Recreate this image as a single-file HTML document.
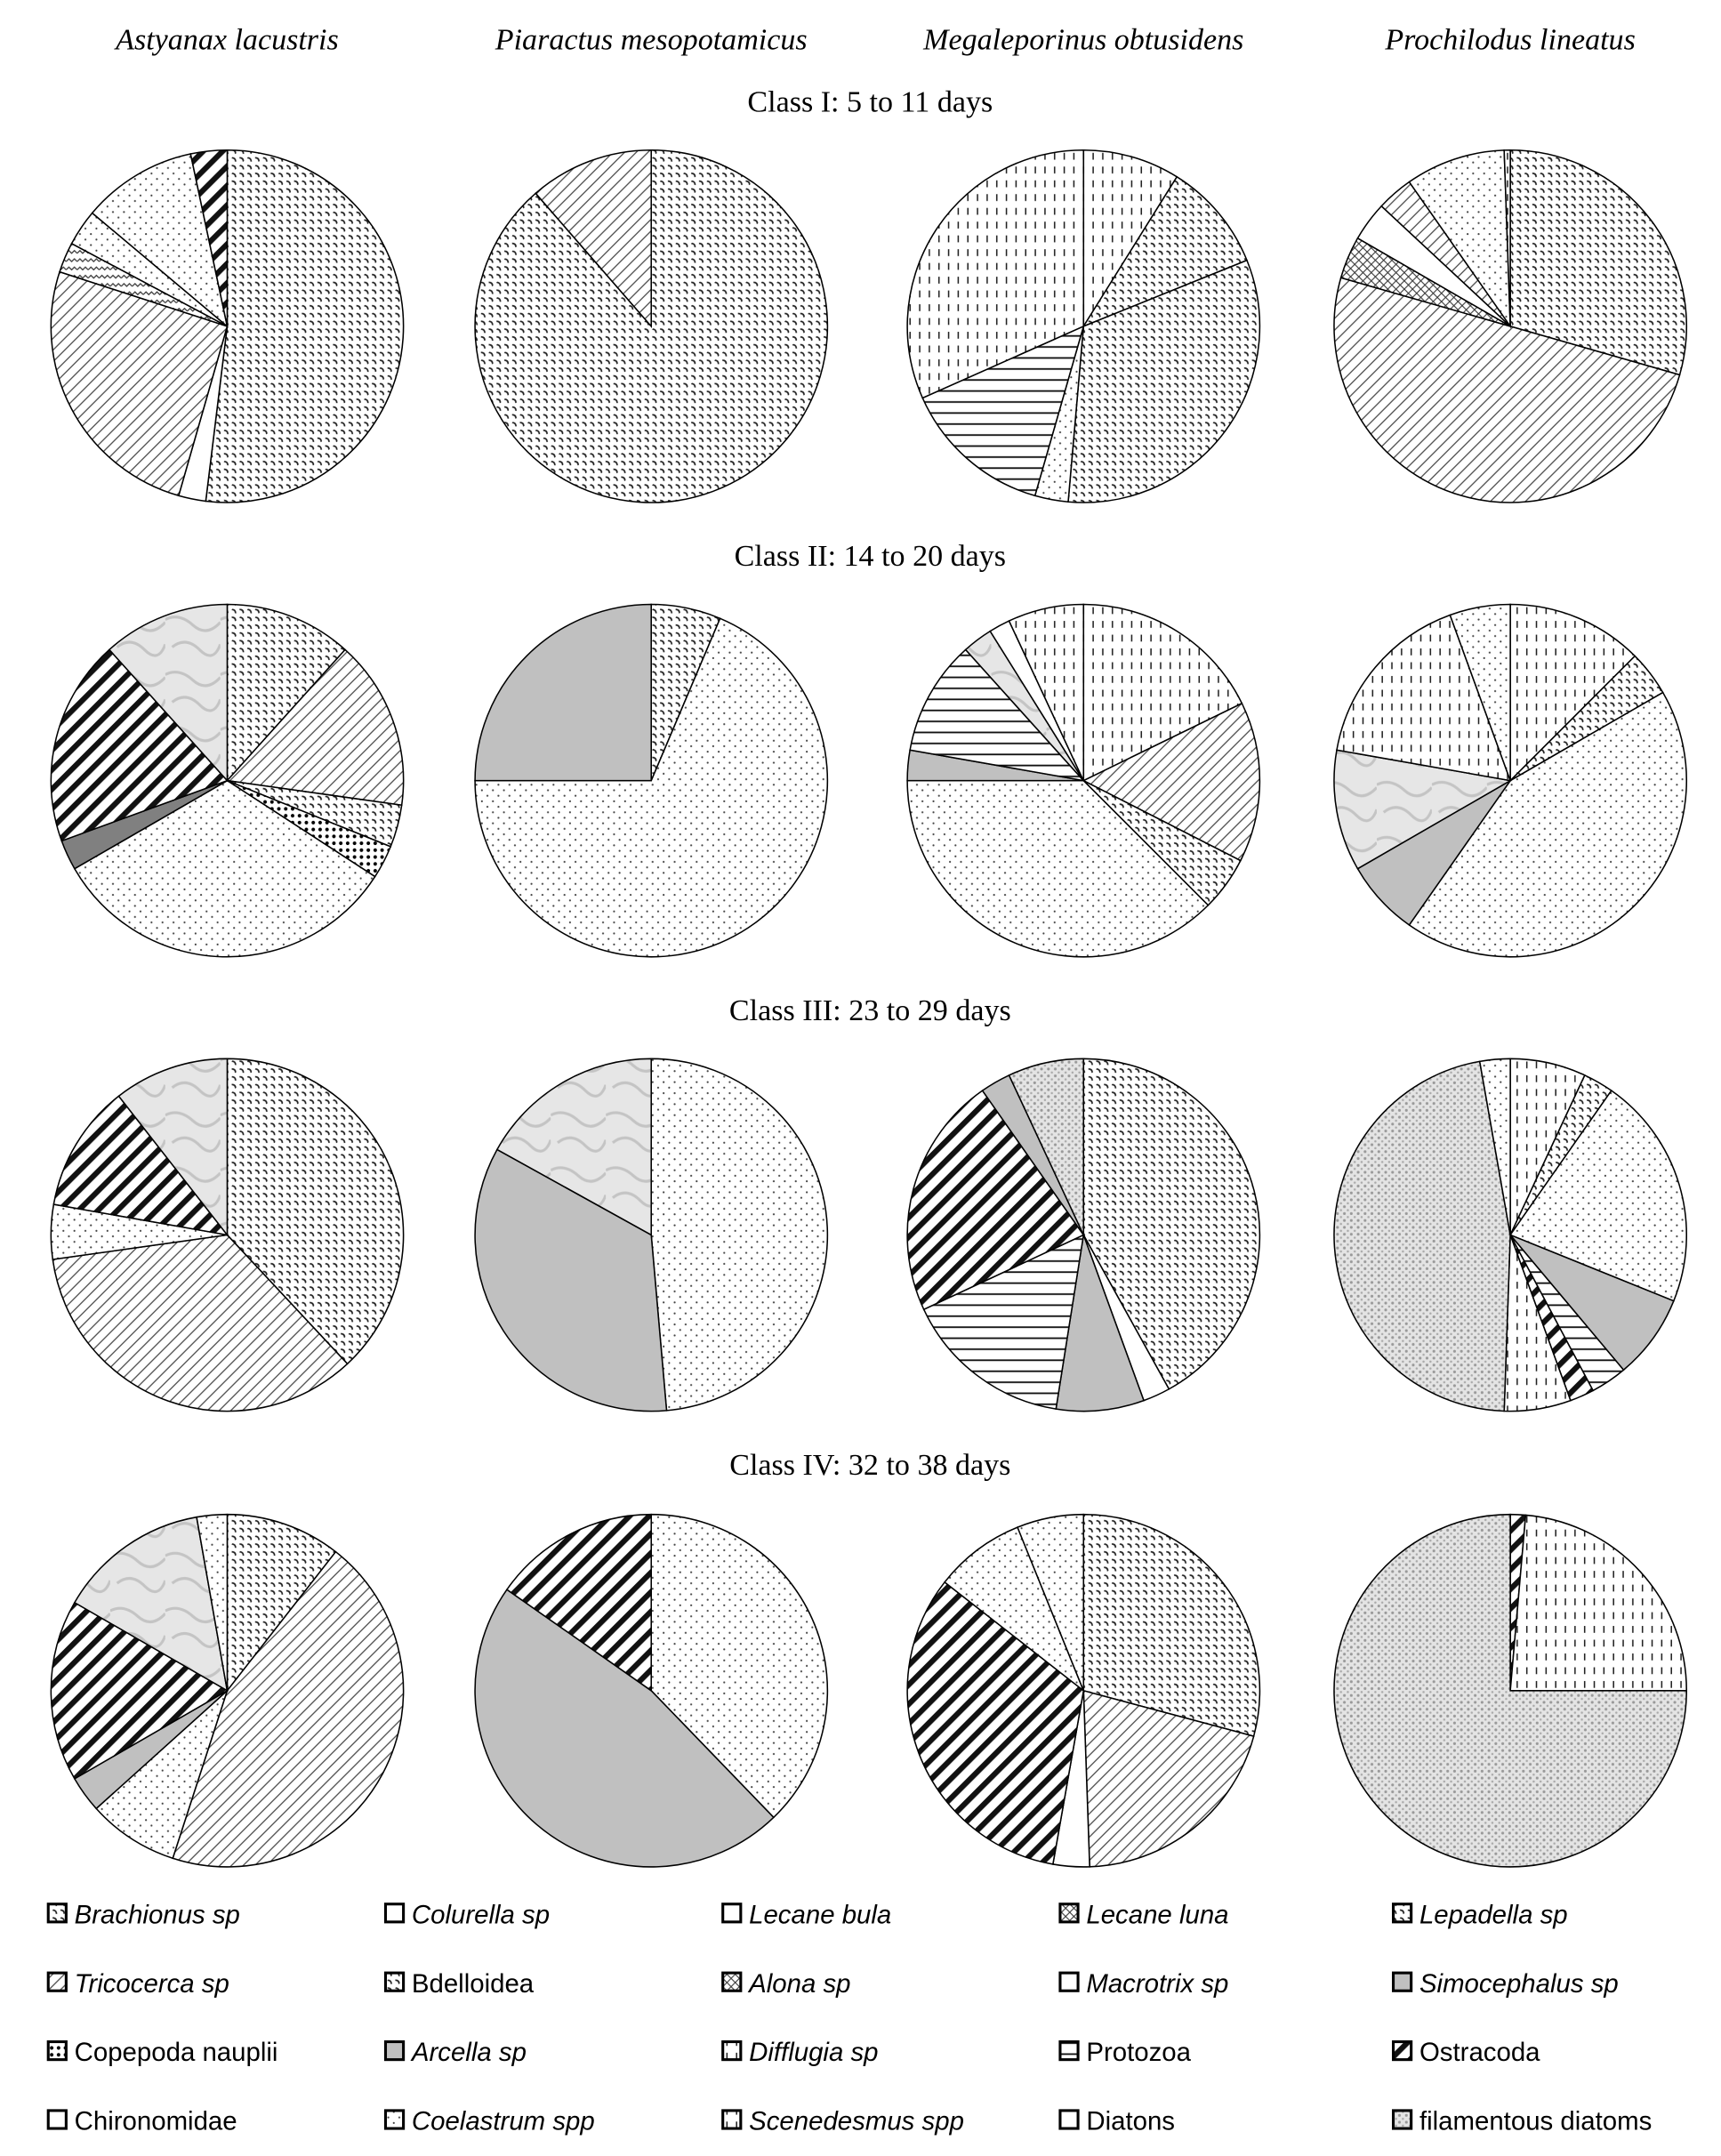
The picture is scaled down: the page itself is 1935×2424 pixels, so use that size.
<!DOCTYPE html>
<html><head><meta charset="utf-8"><style>
html,body{margin:0;padding:0;background:#fff;}
svg{display:block}
.t{font-family:"Liberation Serif",serif;font-size:22px;fill:#000}
.l{font-family:"Liberation Sans",sans-serif;font-size:19px;fill:#000}
</style></head><body>
<svg id="s" xmlns="http://www.w3.org/2000/svg" width="1935" height="2424" viewBox="0 0 1250 1566">
<defs>
<pattern id="dots" width="8" height="8" patternUnits="userSpaceOnUse"><rect width="8" height="8" fill="#fff"/><circle cx="2" cy="2" r="0.7" fill="#444"/><circle cx="6" cy="6" r="0.7" fill="#444"/></pattern>
<pattern id="dense" width="5" height="5" patternUnits="userSpaceOnUse"><rect width="5" height="5" fill="#fff"/><circle cx="2.5" cy="2.5" r="1.3" fill="#000"/></pattern>
<pattern id="checks" width="8" height="8" patternUnits="userSpaceOnUse" patternTransform="rotate(45)"><rect width="8" height="8" fill="#fff"/><path d="M0 2 Q2 0 4 2 M4 6 Q6 4 8 6" stroke="#222" stroke-width="1.1" fill="none"/></pattern>
<pattern id="hatch" width="6" height="6" patternUnits="userSpaceOnUse" patternTransform="rotate(-45)"><rect width="6" height="6" fill="#fff"/><line x1="0" y1="3" x2="6" y2="3" stroke="#444" stroke-width="0.8"/></pattern>
<pattern id="bold" width="10" height="10" patternUnits="userSpaceOnUse" patternTransform="rotate(-45)"><rect width="10" height="10" fill="#fff"/><rect y="0" width="10" height="4" fill="#111"/></pattern>
<pattern id="horiz" width="8" height="8" patternUnits="userSpaceOnUse"><rect width="8" height="8" fill="#fff"/><line x1="0" y1="4" x2="8" y2="4" stroke="#111" stroke-width="1.2"/></pattern>
<pattern id="dashes" width="7" height="10" patternUnits="userSpaceOnUse"><rect width="7" height="10" fill="#fff"/><line x1="3" y1="1" x2="3" y2="6" stroke="#222" stroke-width="1"/></pattern>
<pattern id="stip" width="5" height="5" patternUnits="userSpaceOnUse"><rect width="5" height="5" fill="#e4e4e4"/><circle cx="1.5" cy="1.5" r="1" fill="#999"/><circle cx="4" cy="4" r="0.8" fill="#aaa"/></pattern>
<pattern id="marble" width="40" height="40" patternUnits="userSpaceOnUse"><rect width="40" height="40" fill="#e6e6e6"/><path d="M0 10 Q10 5 20 14 T40 12 M5 30 Q15 22 25 32 T40 28" stroke="#c4c4c4" stroke-width="2" fill="none"/></pattern>
<pattern id="zig" width="8" height="6" patternUnits="userSpaceOnUse"><rect width="8" height="6" fill="#fff"/><path d="M0 4 L2 2 L4 4 L6 2 L8 4" stroke="#333" fill="none" stroke-width="0.8"/></pattern>
<pattern id="cross" width="6" height="6" patternUnits="userSpaceOnUse"><rect width="6" height="6" fill="#fff"/><path d="M0 0 L6 6 M6 0 L0 6" stroke="#333" stroke-width="0.7"/></pattern>
</defs>
<g id="g"></g>
</svg>
<script>
var NS="http://www.w3.org/2000/svg",g=document.getElementById("g");
function el(n,a,txt){var e=document.createElementNS(NS,n);for(var k in a)e.setAttribute(k,a[k]);if(txt)e.textContent=txt;g.appendChild(e);return e;}
var F={dots:"url(#dots)",dense:"url(#dense)",checks:"url(#checks)",hatch:"url(#hatch)",bold:"url(#bold)",horiz:"url(#horiz)",dashes:"url(#dashes)",stip:"url(#stip)",marble:"url(#marble)",zig:"url(#zig)",cross:"url(#cross)",gray:"#c0c0c0",dgray:"#808080",white:"#fff"};
function pt(cx,cy,r,a){a=a*Math.PI/180;return [cx+r*Math.sin(a),cy-r*Math.cos(a)];}
function pie(cx,cy,sl){var r=128;
 sl.forEach(function(s){var p1=pt(cx,cy,r,s[0]),p2=pt(cx,cy,r,s[1]);var lg=(s[1]-s[0])>180?1:0;
 el("path",{d:"M"+cx+" "+cy+" L"+p1[0]+" "+p1[1]+" A"+r+" "+r+" 0 "+lg+" 1 "+p2[0]+" "+p2[1]+" Z",fill:F[s[2]],stroke:"#000","stroke-width":1});});}
var X=[165,473,787,1097],Y=[237,567,897,1228];
var D=[
[[[0,187,"checks"],[187,196,"white"],[196,288,"hatch"],[288,298,"zig"],[298,310,"dots"],[310,348,"dots"],[348,360,"bold"]],
 [[0,319,"checks"],[319,360,"hatch"]],
 [[0,32,"dashes"],[32,68,"checks"],[68,185,"checks"],[185,196,"dots"],[196,246,"horiz"],[246,360,"dashes"]],
 [[0,106,"checks"],[106,286,"hatch"],[286,300,"cross"],[300,313,"white"],[313,325,"hatch"],[325,358,"dots"],[358,360,"dashes"]]],
[[[0,42,"checks"],[42,98,"hatch"],[98,112,"checks"],[112,123,"dense"],[123,240,"dots"],[240,250,"dgray"],[250,318,"bold"],[318,360,"marble"]],
 [[0,23,"checks"],[23,270,"dots"],[270,360,"gray"]],
 [[0,64,"dashes"],[64,117,"hatch"],[117,135,"checks"],[135,270,"dots"],[270,280,"gray"],[280,318,"horiz"],[318,328,"marble"],[328,335,"white"],[335,360,"dashes"]],
 [[0,45,"dashes"],[45,60,"checks"],[60,215,"dots"],[215,240,"gray"],[240,280,"marble"],[280,340,"dashes"],[340,360,"dots"]]],
[[[0,137,"checks"],[137,262,"hatch"],[262,280,"dots"],[280,322,"bold"],[322,360,"marble"]],
 [[0,175,"dots"],[175,299,"gray"],[299,360,"marble"]],
 [[0,151,"checks"],[151,160,"white"],[160,189,"gray"],[189,245,"horiz"],[245,325,"bold"],[325,335,"gray"],[335,360,"stip"]],
 [[0,25,"dashes"],[25,35,"checks"],[35,112,"dots"],[112,140,"gray"],[140,152,"horiz"],[152,160,"bold"],[160,182,"dashes"],[182,350,"stip"],[350,360,"dots"]]],
[[[0,38,"checks"],[38,198,"hatch"],[198,228,"dots"],[228,240,"gray"],[240,300,"bold"],[300,350,"marble"],[350,360,"dots"]],
 [[0,136,"dots"],[136,305,"gray"],[305,360,"bold"]],
 [[0,105,"checks"],[105,178,"hatch"],[178,190,"white"],[190,308,"bold"],[308,338,"dots"],[338,360,"dots"]],
 [[0,5,"bold"],[5,90,"dashes"],[90,360,"stip"]]]];
for(var i=0;i<4;i++)for(var j=0;j<4;j++)pie(X[j],Y[i],D[i][j]);
var H=["Astyanax lacustris","Piaractus mesopotamicus","Megaleporinus obtusidens","Prochilodus lineatus"];
H.forEach(function(h,j){el("text",{x:X[j],y:36,"text-anchor":"middle","class":"t","font-style":"italic"},h);});
["Class I: 5 to 11 days","Class II: 14 to 20 days","Class III: 23 to 29 days","Class IV: 32 to 38 days"].forEach(function(c,i){el("text",{x:632,y:81+330*i,"text-anchor":"middle","class":"t"},c);});
var L=[["Brachionus sp",1,"checks"],["Colurella sp",1,"white"],["Lecane bula",1,"white"],["Lecane luna",1,"cross"],["Lepadella sp",1,"checks"],
["Tricocerca sp",1,"hatch"],["Bdelloidea",0,"checks"],["Alona sp",1,"cross"],["Macrotrix sp",1,"white"],["Simocephalus sp",1,"gray"],
["Copepoda nauplii",0,"dense"],["Arcella sp",1,"gray"],["Difflugia sp",1,"dashes"],["Protozoa",0,"horiz"],["Ostracoda",0,"bold"],
["Chironomidae",0,"white"],["Coelastrum spp",1,"dots"],["Scenedesmus spp",1,"dashes"],["Diatons",0,"white"],["filamentous diatoms",0,"stip"]];
var LX=[35,280,525,770,1012];
L.forEach(function(l,k){var r=Math.floor(k/5),c=k%5,y=1390+50*r;
 el("rect",{x:LX[c],y:y-7,width:13,height:13,fill:F[l[2]],stroke:"#000","stroke-width":2});
 var a={x:LX[c]+19,y:y+7,"class":"l"};if(l[1])a["font-style"]="italic";if(k==0)a["font-size"]="22";
 el("text",a,l[0]);});
</script>
</body></html>
